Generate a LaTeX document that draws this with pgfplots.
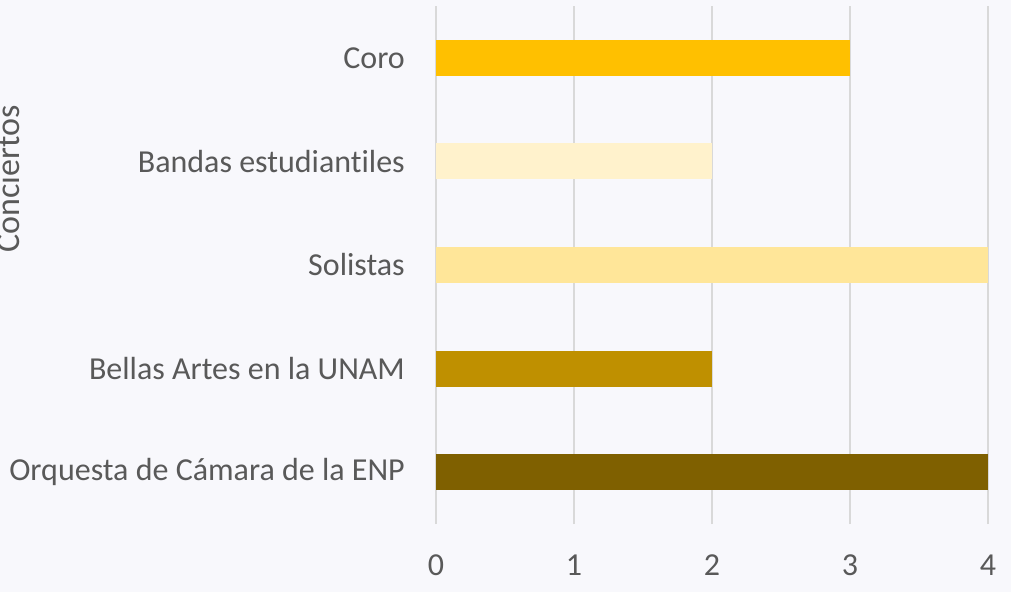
\documentclass[border=0pt]{standalone}
\usepackage{pgfplots}
\pgfplotsset{compat=1.18}
\usepackage{fontspec}
\setmainfont[Ligatures=NoCommon]{Carlito}
\definecolor{bg}{HTML}{F8F8FC}
\definecolor{gridc}{HTML}{D9D9D9}
\definecolor{txt}{HTML}{595959}
\definecolor{c1}{HTML}{FFC000}
\definecolor{c2}{HTML}{FFF2CC}
\definecolor{c3}{HTML}{FFE699}
\definecolor{c4}{HTML}{BF9000}
\definecolor{c5}{HTML}{7F6000}
\begin{document}
\begin{tikzpicture}
\path[use as bounding box, fill=bg] (0,0) rectangle (1011pt,592pt);
\clip (0,0) rectangle (1011pt,592pt);
\begin{axis}[
  at={(436pt,68pt)}, anchor=south west,
  width=552pt, height=518pt, scale only axis,
  xmin=0, xmax=4, ymin=-0.5, ymax=4.5,
  xtick={0,1,2,3,4},
  ytick={0,1,2,3,4},
  yticklabels={Orquesta de Cámara de la ENP, Bellas Artes en la UNAM, Solistas, Bandas estudiantiles, Coro},
  xmajorgrids, grid style={gridc, line width=1.5pt},
  axis line style={draw=none},
  major tick length=0pt,
  tick label style={font=\fontsize{32}{38}\selectfont, text=txt, inner sep=0pt},
  yticklabel style={xshift=-31pt},
  xticklabel style={yshift=-31pt},
  /pgf/number format/assume math mode=true,
  ylabel={Conciertos},
  ylabel style={at={(axis description cs:-0.7554,0.666)}, anchor=base, font=\fontsize{34}{40}\selectfont, text=txt, inner sep=0pt},
  xbar, bar width=36pt, bar shift=0pt,
  clip=false,
]
\addplot[draw=none, fill=c5] coordinates {(4,0)};
\addplot[draw=none, fill=c4] coordinates {(2,1)};
\addplot[draw=none, fill=c3] coordinates {(4,2)};
\addplot[draw=none, fill=c2] coordinates {(2,3)};
\addplot[draw=none, fill=c1] coordinates {(3,4)};
\end{axis}
\end{tikzpicture}
\end{document}
